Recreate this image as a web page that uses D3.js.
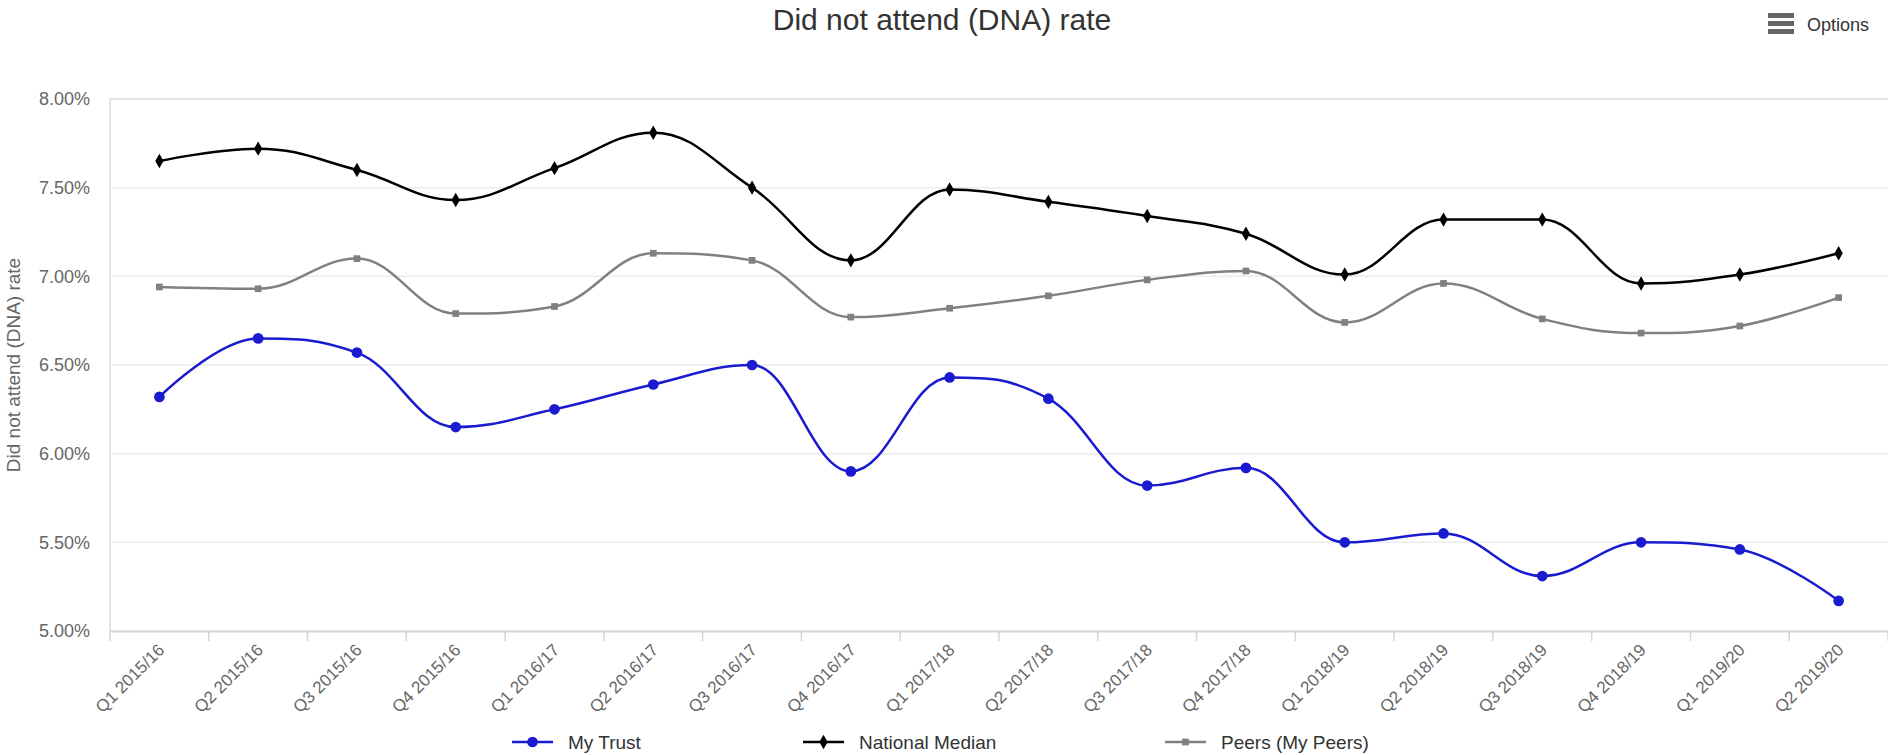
<!DOCTYPE html>
<html>
<head>
<meta charset="utf-8">
<script src="https://cdn.jsdelivr.net/npm/d3@7"></script>
<style>
  html, body { margin: 0; padding: 0; background: #fff; }
  svg { display: block; font-family: "Liberation Sans", Arial, sans-serif; }
</style>
</head>
<body>
<svg id="chart" width="1888" height="755"></svg>
<script>
const categories = ["Q1 2015/16","Q2 2015/16","Q3 2015/16","Q4 2015/16","Q1 2016/17","Q2 2016/17","Q3 2016/17","Q4 2016/17","Q1 2017/18","Q2 2017/18","Q3 2017/18","Q4 2017/18","Q1 2018/19","Q2 2018/19","Q3 2018/19","Q4 2018/19","Q1 2019/20","Q2 2019/20"];
const myTrust = [6.32,6.65,6.57,6.15,6.25,6.39,6.50,5.90,6.43,6.31,5.82,5.92,5.50,5.55,5.31,5.50,5.46,5.17];
const nationalMedian = [7.65,7.72,7.60,7.43,7.61,7.81,7.50,7.09,7.49,7.42,7.34,7.24,7.01,7.32,7.32,6.96,7.01,7.13];
const peers = [6.94,6.93,7.10,6.79,6.83,7.13,7.09,6.77,6.82,6.89,6.98,7.03,6.74,6.96,6.76,6.68,6.72,6.88];
const yTicks = [5, 5.5, 6, 6.5, 7, 7.5, 8];
const seriesNames = ["My Trust", "National Median", "Peers (My Peers)"];

const series = [
  { name: seriesNames[0], values: myTrust, color: "#1a1ad0", symbol: d3.symbolCircle, size: 90, legendX: 512 },
  { name: seriesNames[1], values: nationalMedian, color: "#000000", symbol: d3.symbolDiamond, size: 60, legendX: 803 },
  { name: seriesNames[2], values: peers, color: "#808080", symbol: d3.symbolSquare, size: 45, legendX: 1165 }
];

const svg = d3.select("#chart");
const plot = { left: 110, right: 1888, top: 99, bottom: 631 };

const x = d3.scaleBand().domain(categories).range([plot.left, plot.right]);
const y = d3.scaleLinear().domain([5, 8]).range([plot.bottom, plot.top]);
const cx = c => x(c) + x.bandwidth() / 2;

// gridlines
svg.append("g").selectAll("line").data(yTicks).join("line")
  .attr("x1", plot.left).attr("x2", plot.right)
  .attr("y1", d => y(d)).attr("y2", d => y(d))
  .attr("stroke", d => d === 8 ? "#e2e2e2" : "#ececec")
  .attr("stroke-width", d => d === 8 ? 2 : 1.5);

// left axis line
svg.append("line").attr("x1", plot.left).attr("x2", plot.left)
  .attr("y1", plot.top).attr("y2", plot.bottom)
  .attr("stroke", "#e4e4e4").attr("stroke-width", 2);

// y axis labels
const yAxis = d3.axisLeft(y).tickValues(yTicks).tickFormat(d => d3.format(".2f")(d) + "%").tickSize(0).tickPadding(0);
const yg = svg.append("g").attr("transform", `translate(${plot.left - 20},0)`).call(yAxis);
yg.select(".domain").remove();
yg.selectAll("text").attr("fill", "#666").style("font-size", "18px").style("font-family", "Liberation Sans, Arial, sans-serif");

// y axis title
svg.append("text")
  .attr("transform", `translate(20,${(plot.top + plot.bottom) / 2}) rotate(-90)`)
  .attr("text-anchor", "middle")
  .attr("fill", "#666").style("font-size", "19px")
  .text("Did not attend (DNA) rate");

// x axis
const xAxis = d3.axisBottom(x).tickSize(0);
const xg = svg.append("g").attr("transform", `translate(0,${plot.bottom})`).call(xAxis);
xg.select(".domain").attr("stroke", "#d6d6d6").attr("stroke-width", 2);
xg.selectAll("text")
  .attr("fill", "#666").style("font-size", "17px")
  .style("font-family", "Liberation Sans, Arial, sans-serif")
  .attr("text-anchor", "end")
  .attr("y", 0).attr("dy", 0)
  .attr("transform", "translate(6,20) rotate(-45)");
// tick marks at band boundaries
svg.append("g").selectAll("line").data(categories.concat(["__end"])).join("line")
  .attr("x1", (d, i) => i < categories.length ? x(d) : plot.right)
  .attr("x2", (d, i) => i < categories.length ? x(d) : plot.right)
  .attr("y1", plot.bottom).attr("y2", plot.bottom + 10)
  .attr("stroke", "#d6d6d6").attr("stroke-width", 1.5);

// Highcharts-style spline
function splinePath(pts) {
  const p = d3.path();
  const smoothing = 1.5, denom = smoothing + 1;
  let lastRC = null;
  pts.forEach((pt, i) => {
    const [px, py] = pt;
    if (i === 0) { p.moveTo(px, py); lastRC = null; return; }
    let lcx = px, lcy = py, rcx = null, rcy = null;
    const prev = pts[i - 1], next = pts[i + 1];
    if (next) {
      lcx = (smoothing * px + prev[0]) / denom;
      lcy = (smoothing * py + prev[1]) / denom;
      rcx = (smoothing * px + next[0]) / denom;
      rcy = (smoothing * py + next[1]) / denom;
      if (rcx !== lcx) {
        const corr = ((rcy - lcy) * (rcx - px)) / (rcx - lcx) + py - rcy;
        lcy += corr; rcy += corr;
        if (lcy > prev[1] && lcy > py) { lcy = Math.max(prev[1], py); rcy = 2 * py - lcy; }
        else if (lcy < prev[1] && lcy < py) { lcy = Math.min(prev[1], py); rcy = 2 * py - lcy; }
        if (rcy > next[1] && rcy > py) { rcy = Math.max(next[1], py); lcy = 2 * py - rcy; }
        else if (rcy < next[1] && rcy < py) { rcy = Math.min(next[1], py); lcy = 2 * py - rcy; }
      }
    }
    const c1 = lastRC || prev;
    p.bezierCurveTo(c1[0], c1[1], lcx, lcy, px, py);
    lastRC = rcx !== null ? [rcx, rcy] : null;
  });
  return p.toString();
}

// draw series (reverse so My Trust on top)
series.slice().reverse().forEach(s => {
  const pts = categories.map((c, i) => [cx(c), y(s.values[i])]);
  svg.append("path").attr("d", splinePath(pts))
    .attr("fill", "none").attr("stroke", s.color).attr("stroke-width", 2.5);
  svg.append("g").selectAll("path").data(categories).join("path")
    .attr("transform", (c, i) => `translate(${cx(c)},${y(s.values[i])})`)
    .attr("d", d3.symbol().type(s.symbol).size(s.size))
    .attr("fill", s.color);
});

// title
svg.append("text").attr("x", 942).attr("y", 30).attr("text-anchor", "middle")
  .attr("fill", "#333").style("font-size", "30px")
  .text("Did not attend (DNA) rate");

// options button
const opt = svg.append("g");
[0, 8, 16].forEach(o => opt.append("rect").attr("x", 1768).attr("y", 13 + o).attr("width", 26).attr("height", 5).attr("fill", "#666"));
opt.append("text").attr("x", 1807).attr("y", 31).attr("fill", "#333").style("font-size", "18px").text("Options");

// legend
const lg = svg.append("g");
series.forEach(s => {
  const g = lg.append("g").attr("transform", `translate(${s.legendX},742)`);
  g.append("line").attr("x1", 0).attr("x2", 41).attr("stroke", s.color).attr("stroke-width", 2.5);
  g.append("path").attr("transform", "translate(20.5,0)").attr("d", d3.symbol().type(s.symbol).size(s.size)).attr("fill", s.color);
  g.append("text").attr("x", 56).attr("y", 7).attr("fill", "#333").style("font-size", "19px").text(s.name);
});
</script>
</body>
</html>
